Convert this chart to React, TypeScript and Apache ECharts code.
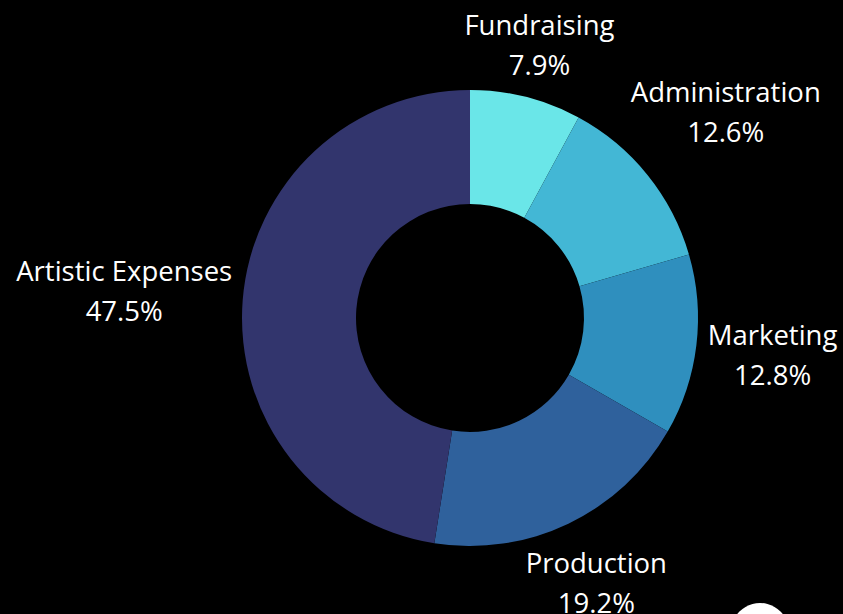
import React, { useEffect, useRef } from "react";
import * as echarts from "echarts";

const categories = ["Fundraising", "Administration", "Marketing", "Production", "Artistic Expenses"];
const shares = [7.9, 12.6, 12.8, 19.2, 47.5];
const colors = ["#6ae6e8", "#43b7d5", "#2f8fbe", "#2f619c", "#32356d"];

const CX = 470;
const CY = 318;
const R_OUT = 228;
const R_IN = 114;
const LABEL_R = 237;

export default function App() {
  const ref = useRef<HTMLDivElement>(null);
  useEffect(() => {
    if (!ref.current) return;
    const chart = echarts.init(ref.current, null, { renderer: "svg" });
    const total = shares.reduce((a, b) => a + b, 0);
    const cum: number[] = [];
    let acc = 0;
    for (const v of shares) {
      cum.push(acc + v / 2);
      acc += v;
    }
    chart.setOption({
      animation: false,
      backgroundColor: "#000000",
      graphic: [
        {
          type: "circle",
          shape: { cx: 760, cy: 632, r: 29 },
          style: { fill: "#ffffff" },
          z: 10,
        },
      ],
      series: [
        {
          type: "pie",
          center: [CX, CY],
          radius: [R_IN, R_OUT],
          startAngle: 90,
          clockwise: true,
          avoidLabelOverlap: false,
          percentPrecision: 1,
          label: {
            show: true,
            position: "inside",
            formatter: "{b}\n{d}%",
            color: "#ffffff",
            fontFamily: "Open Sans",
            fontSize: 27.5,
            lineHeight: 40,
            align: "center",
            verticalAlign: "middle",
          },
          labelLine: { show: false },
          itemStyle: { borderWidth: 0 },
          emphasis: { disabled: true },
          data: categories.map((name, i) => ({
            name,
            value: shares[i],
            itemStyle: { color: colors[i] },
          })),
          labelLayout: (params: any) => {
            const i = params.dataIndex;
            const theta = (2 * Math.PI * cum[i]) / total;
            const s = Math.sin(theta);
            const c = Math.cos(theta);
            const hw = params.labelRect.width / 2;
            const hh = (params.labelRect.height / 2) * 0.7;
            const d = LABEL_R + hw * Math.abs(s) + hh * Math.abs(c);
            return {
              x: CX + s * d,
              y: CY - c * d,
              align: "center",
              verticalAlign: "middle",
            };
          },
        },
      ],
    });
    return () => chart.dispose();
  }, []);
  return (
    <div
      ref={ref}
      style={{ position: "fixed", left: 0, top: 0, width: 843, height: 614 }}
    />
  );
}
